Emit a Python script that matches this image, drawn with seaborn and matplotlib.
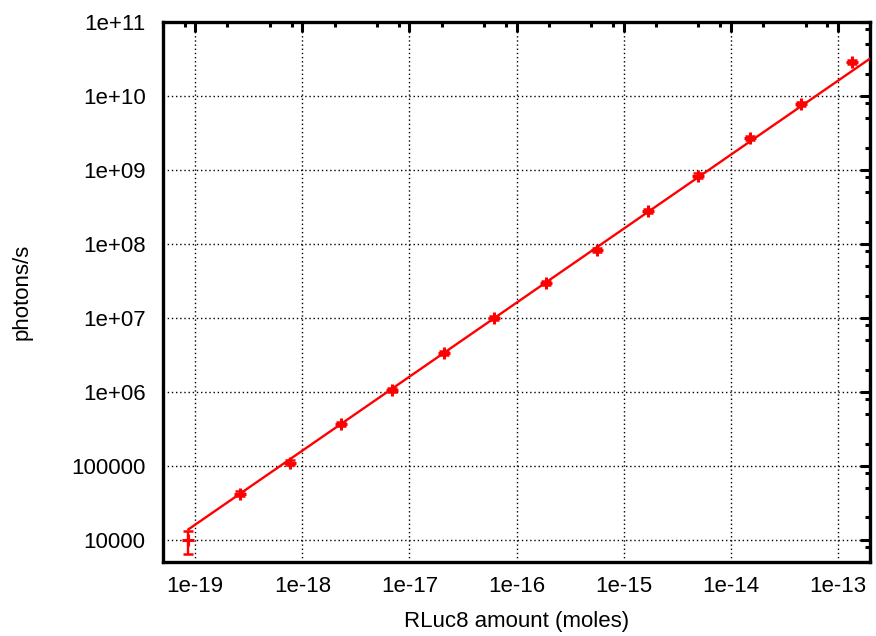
import numpy as np
import pandas as pd
import matplotlib
matplotlib.use("Agg")
import matplotlib.pyplot as plt
import seaborn as sns
from matplotlib.ticker import LogLocator, FixedLocator, NullFormatter

# ---- data ----
amount_moles = [8.6e-20, 2.6e-19, 7.7e-19, 2.3e-18, 6.9e-18, 2.1e-17, 6.2e-17,
                1.9e-16, 5.6e-16, 1.7e-15, 5.0e-15, 1.5e-14, 4.5e-14, 1.35e-13]
photons = [9.8e3, 4.2e4, 1.1e5, 3.7e5, 1.06e6, 3.37e6, 1.0e7,
           2.97e7, 8.3e7, 2.79e8, 8.4e8, 2.73e9, 7.9e9, 2.91e10]
photons_err = [3.4e3, 3.0e3, 8.0e3, 2.5e4, 7.0e4, 2.3e5, 7.0e5,
               2.0e6, 6.0e6, 1.9e7, 5.5e7, 1.8e8, 5.0e8, 2.0e9]
# power-law fit y = coef * x**exp
fit_coef = 1.6e23
fit_exp = 1.0
x_range = (5e-20, 2e-13)
y_range = (5e3, 1e11)
x_tick_labels = ["1e-19", "1e-18", "1e-17", "1e-16", "1e-15", "1e-14", "1e-13"]
y_tick_labels = ["10000", "100000", "1e+06", "1e+07", "1e+08", "1e+09", "1e+10", "1e+11"]

df = pd.DataFrame({"x": amount_moles, "y": photons, "err": photons_err})
fit_x = np.geomspace(amount_moles[0], x_range[1], 100)
fit_df = pd.DataFrame({"x": fit_x, "y": fit_coef * fit_x ** fit_exp})

sns.set_style("white")
plt.rcParams["font.family"] = ["Liberation Sans", "DejaVu Sans"]

fig = plt.figure(figsize=(8.76, 6.36), dpi=100)
ax = fig.add_axes([163/876, 1-562/636, (870-163)/876, (562-22)/636])
ax.set_xscale("log")
ax.set_yscale("log")

red = "#ff0000"
sns.lineplot(data=fit_df, x="x", y="y", ax=ax, color=red, lw=1.7, zorder=3)
ax.errorbar(df["x"], df["y"], yerr=df["err"], fmt="none", ecolor=red,
            elinewidth=1.7, capsize=3.8, capthick=1.8, zorder=4)
sns.scatterplot(data=df, x="x", y="y", ax=ax, marker="+", s=75, color=red,
                linewidth=2.2, zorder=5)

ax.set_xlim(*x_range)
ax.set_ylim(*y_range)

xmaj = [1e-19, 1e-18, 1e-17, 1e-16, 1e-15, 1e-14, 1e-13]
ymaj = [1e4, 1e5, 1e6, 1e7, 1e8, 1e9, 1e10, 1e11]
ax.xaxis.set_major_locator(FixedLocator(xmaj))
ax.yaxis.set_major_locator(FixedLocator(ymaj))
ax.set_xticklabels(x_tick_labels)
ax.set_yticklabels(y_tick_labels)
ax.xaxis.set_minor_locator(LogLocator(base=10, subs=(2.0, 5.0, 8.0), numticks=30))
ax.yaxis.set_minor_locator(LogLocator(base=10, subs=(2.0, 5.0, 8.0), numticks=30))
ax.xaxis.set_minor_formatter(NullFormatter())
ax.yaxis.set_minor_formatter(NullFormatter())

ax.tick_params(which="major", direction="in", length=7, width=2.2,
               top=True, right=True, labelsize=16, colors="black")
ax.tick_params(which="minor", direction="in", length=3.5, width=2.2,
               top=True, right=True, colors="black")
ax.tick_params(axis="x", which="major", pad=10)
ax.tick_params(axis="y", which="major", pad=12.5)

ax.grid(True, which="major", color="black", linestyle=(0, (1, 2)), lw=1.0)
for s in ax.spines.values():
    s.set_visible(True)
    s.set_linewidth(2.4)
    s.set_color("black")

ax.set_xlabel("RLuc8 amount (moles)", fontsize=16, color="black")
ax.set_ylabel("photons/s", fontsize=16, color="black")
ax.xaxis.set_label_coords(0.5, -(622-562)/540)
ax.xaxis.label.set_va("center")
ax.yaxis.set_label_coords((22-163)/707, 0.5)
ax.yaxis.label.set_va("center")

fig.savefig("out.png", dpi=100)
